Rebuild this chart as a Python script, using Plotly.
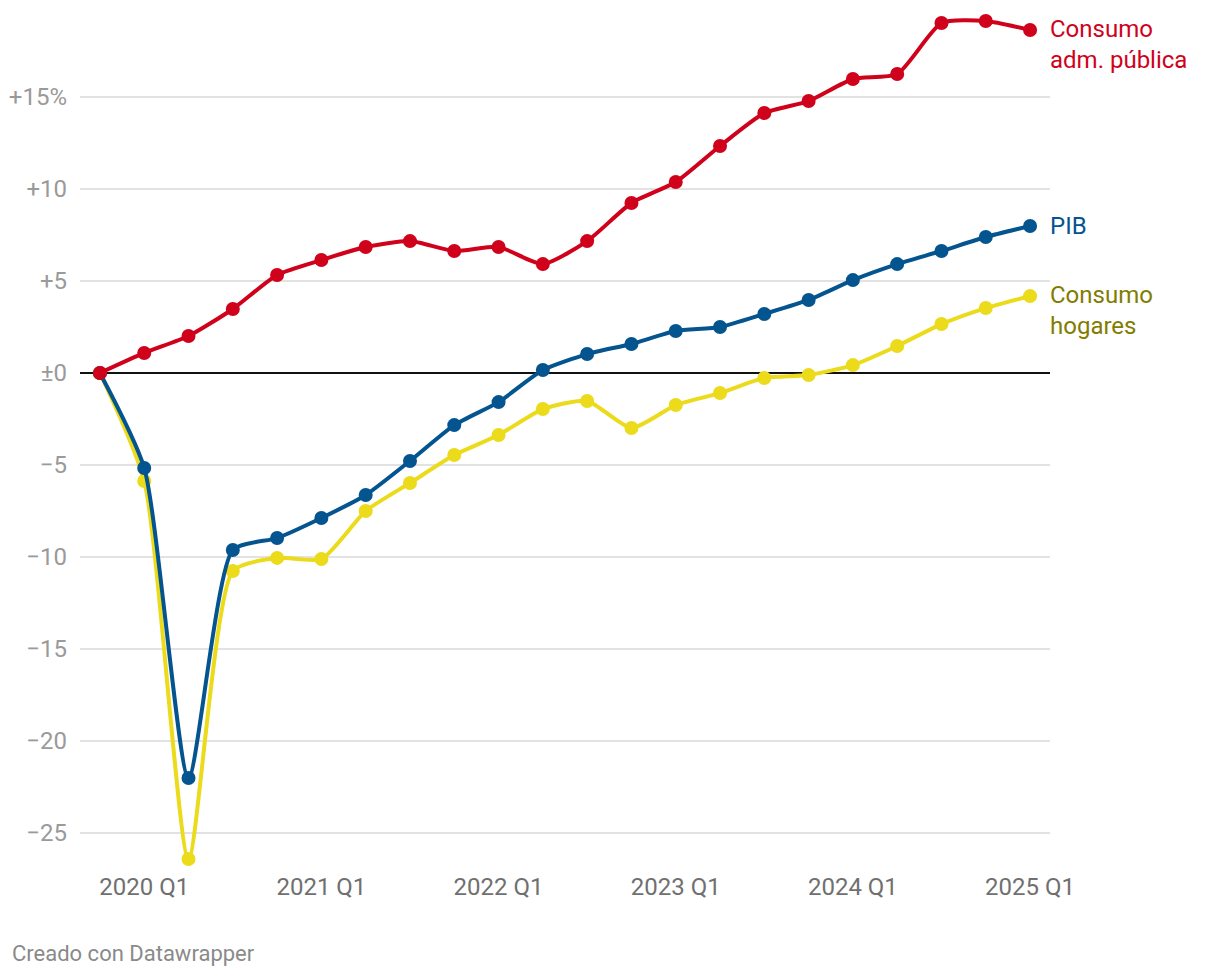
import plotly.graph_objects as go

quarters = ["2019 Q4",
            "2020 Q1", "2020 Q2", "2020 Q3", "2020 Q4",
            "2021 Q1", "2021 Q2", "2021 Q3", "2021 Q4",
            "2022 Q1", "2022 Q2", "2022 Q3", "2022 Q4",
            "2023 Q1", "2023 Q2", "2023 Q3", "2023 Q4",
            "2024 Q1", "2024 Q2", "2024 Q3", "2024 Q4",
            "2025 Q1"]

consumo_adm = [0, 1.09, 2.01, 3.48, 5.33, 6.14, 6.85, 7.17, 6.63, 6.85, 5.92,
               7.17, 9.24, 10.38, 12.34, 14.13, 14.78, 15.98, 16.25, 19.02, 19.13, 18.64]
pib = [0, -5.16, -22.01, -9.62, -8.97, -7.88, -6.63, -4.78, -2.83, -1.58, 0.16,
       1.03, 1.58, 2.28, 2.50, 3.21, 3.97, 5.05, 5.92, 6.63, 7.39, 7.99]
consumo_hog = [0, -5.87, -26.41, -10.76, -10.05, -10.11, -7.50, -5.98, -4.46, -3.37, -1.96,
               -1.52, -2.99, -1.74, -1.09, -0.27, -0.11, 0.43, 1.47, 2.66, 3.53, 4.18]

x_tick_labels = ["2020 Q1", "2021 Q1", "2022 Q1", "2023 Q1", "2024 Q1", "2025 Q1"]
y_tick_vals = [15, 10, 5, 0, -5, -10, -15, -20, -25]
y_tick_text = ["+15%", "+10", "+5", "±0", "−5", "−10", "−15", "−20", "−25"]

RED = "#d0021b"
BLUE = "#04548f"
YELLOW = "#ebdb1b"
OLIVE = "#827c00"

idx = list(range(len(quarters)))

fig = go.Figure()

series = [
    ("Consumo hogares", consumo_hog, YELLOW),
    ("PIB", pib, BLUE),
    ("Consumo adm. pública", consumo_adm, RED),
]
for name, vals, col in series:
    fig.add_trace(go.Scatter(
        x=idx, y=vals, name=name, mode="lines+markers",
        line=dict(color=col, width=4, shape="spline", smoothing=0.6),
        marker=dict(color=col, size=14),
        cliponaxis=False, showlegend=False,
        hovertemplate="%{text}: %{y:.1f}%<extra>" + name + "</extra>",
        text=quarters,
    ))

tick_positions = [quarters.index(t) for t in x_tick_labels]

fig.update_layout(
    width=1212, height=968,
    margin=dict(l=72, r=170, t=2, b=111),
    paper_bgcolor="white", plot_bgcolor="white",
    font=dict(family="Roboto", size=24, color="#999999"),
    xaxis=dict(
        range=[-0.45, 21.45], tickvals=tick_positions, ticktext=x_tick_labels,
        showgrid=False, zeroline=False, showline=False, ticks="",
        tickfont=dict(size=24, color="#707070"), ticklabelstandoff=5,
    ),
    yaxis=dict(
        range=[-26.74, 19.73], tickvals=y_tick_vals, ticktext=y_tick_text,
        showgrid=True, gridcolor="#e2e2e2", gridwidth=1.5,
        zeroline=True, zerolinecolor="#111111", zerolinewidth=2,
        showline=False, ticks="", tickfont=dict(size=24, color="#9a9a9a"),
        ticklabelstandoff=12,
    ),
    annotations=[
        dict(x=21, y=consumo_adm[-1], xref="x", yref="y", text="Consumo<br>adm. pública",
             showarrow=False, xanchor="left", yanchor="top", xshift=18, yshift=17,
             align="left", font=dict(family="Roboto", size=24, color=RED)),
        dict(x=21, y=pib[-1], xref="x", yref="y", text="PIB",
             showarrow=False, xanchor="left", yanchor="middle", xshift=18,
             align="left", font=dict(family="Roboto", size=24, color=BLUE)),
        dict(x=21, y=consumo_hog[-1], xref="x", yref="y", text="Consumo<br>hogares",
             showarrow=False, xanchor="left", yanchor="top", xshift=18, yshift=17,
             align="left", font=dict(family="Roboto", size=24, color=OLIVE)),
        dict(x=0, y=0, xref="paper", yref="paper", text="Creado con Datawrapper",
             showarrow=False, xanchor="left", yanchor="middle", xshift=-70, yshift=-88,
             font=dict(family="Roboto", size=22, color="#8a8a8a")),
    ],
)

fig.write_html("out.html")
